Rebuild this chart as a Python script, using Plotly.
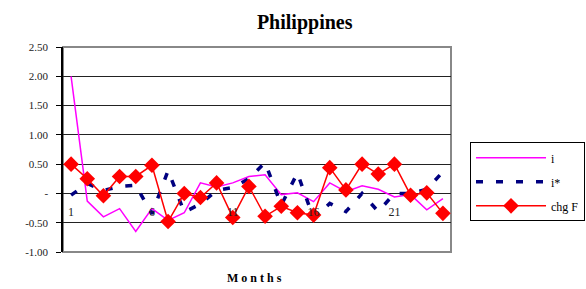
import plotly.graph_objects as go

months = list(range(1, 25))
i_vals = [2.00, -0.13, -0.40, -0.26, -0.65, -0.26, -0.46, -0.33, 0.18, 0.11, 0.18, 0.29,
          0.32, -0.02, 0.01, -0.14, 0.18, 0.03, 0.13, 0.07, -0.06, -0.02, -0.28, -0.09]
istar_vals = [-0.03, 0.17, 0.05, 0.12, 0.14, -0.35, 0.39, -0.32, -0.18, 0.05, 0.10, 0.25,
              0.53, -0.20, 0.35, -0.43, -0.17, -0.31, 0.00, -0.31, 0.00, 0.00, 0.07, 0.37]
chgf_vals = [0.50, 0.25, -0.04, 0.29, 0.29, 0.48, -0.48, 0.00, -0.07, 0.18, -0.41, 0.12,
             -0.39, -0.22, -0.33, -0.37, 0.44, 0.06, 0.50, 0.33, 0.50, -0.03, 0.01, -0.34]

y_ticks = [-1.0, -0.5, 0.0, 0.5, 1.0, 1.5, 2.0, 2.5]
y_ticktext = ["-1.00", "-0.50", "-", "0.50", "1.00", "1.50", "2.00", "2.50"]
x_ticks = [1, 6, 11, 16, 21]
x_ticktext = ["1", "6", "11", "16", "21"]

YMIN, YMAX = -1.0, 2.5
FONT = "Liberation Serif, Times New Roman, serif"

fig = go.Figure()
fig.add_trace(go.Scatter(x=months, y=i_vals, name="i", mode="lines", legendgroup="a",
                         line=dict(color="#FF00FF", width=1.5)))
fig.add_trace(go.Scatter(x=months, y=istar_vals, name="i*", mode="lines", legendgroup="b",
                         line=dict(color="#000080", width=3.5, dash="7px,13px")))
fig.add_trace(go.Scatter(x=months, y=chgf_vals, name="chg F", mode="lines+markers",
                         legendgroup="c",
                         line=dict(color="#FF0000", width=1.5),
                         marker=dict(symbol="diamond", size=12, color="#FF0000")))

fig.update_layout(
    width=586, height=289,
    margin=dict(l=63, r=135, t=47, b=37, autoexpand=False),
    paper_bgcolor="white", plot_bgcolor="white",
    font=dict(family=FONT, size=11, color="#222"),
    title=dict(text="<b>Philippines</b>", x=0.52, xanchor="center",
               y=0.925, yref="container", yanchor="middle",
               font=dict(family=FONT, size=20, color="#000")),
    showlegend=True,
    legend=dict(x=1.049, xanchor="left", y=0.535, yanchor="top",
                bordercolor="#000", borderwidth=1, bgcolor="white",
                font=dict(family=FONT, size=12, color="#000"),
                tracegroupgap=5, itemwidth=70),
    xaxis=dict(range=[0.5, 24.5], tickmode="array", tickvals=x_ticks, ticktext=x_ticktext,
               showgrid=False, zeroline=False, showline=False, ticks="",
               anchor="free", position=(0 - YMIN) / (YMAX - YMIN), automargin=False,
               tickfont=dict(family=FONT, size=12, color="#222"), ticklabelstandoff=10),
    yaxis=dict(range=[YMIN, YMAX], tickmode="array", tickvals=y_ticks, ticktext=y_ticktext,
               showgrid=True, gridcolor="#222", gridwidth=1, zeroline=False,
               showline=True, linecolor="#000", linewidth=1.5, automargin=False,
               ticks="outside", ticklen=5, tickcolor="#000", ticklabelstandoff=6,
               tickfont=dict(family=FONT, size=11, color="#222")),
    shapes=[dict(type="rect", xref="paper", yref="paper", x0=0, x1=1, y0=0, y1=1,
                 line=dict(color="#888", width=2), layer="below")],
    annotations=[dict(text="<b>M o n t h s</b>", xref="paper", yref="paper",
                      x=(254 - 63) / 388, y=-0.127, xanchor="center", yanchor="middle",
                      showarrow=False, font=dict(family=FONT, size=12, color="#000"))],
)

fig.write_html("out.html", config={"displayModeBar": False},
               post_script="document.body.style.margin='0';document.body.style.overflow='hidden';")
